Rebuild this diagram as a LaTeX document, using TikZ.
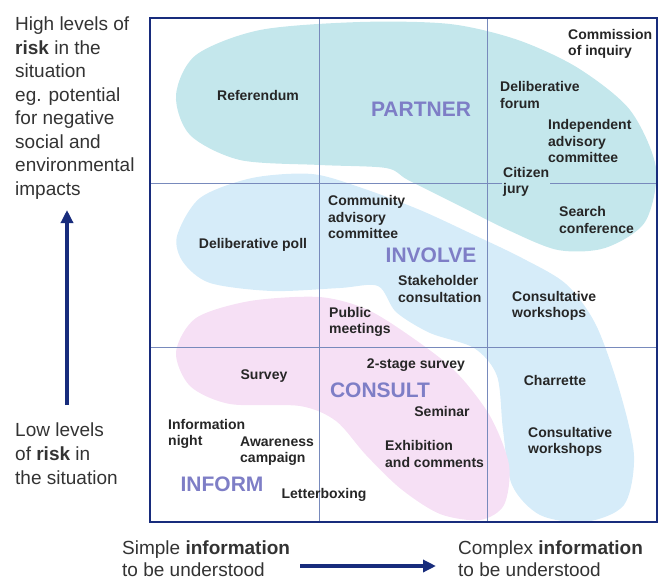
\documentclass[tikz,border=0pt]{standalone}
\usepackage{xcolor}
\usepackage{tikz}
\usepackage{fontspec}
\setmainfont{Liberation Sans}
\definecolor{partnerteal}{RGB}{196, 231, 236}
\definecolor{involveblue}{RGB}{214, 236, 249}
\definecolor{consultpink}{RGB}{246, 224, 245}
\definecolor{framenavy}{RGB}{24, 44, 124}
\definecolor{gridgray}{RGB}{120, 138, 188}
\definecolor{levelpurple}{RGB}{126, 126, 198}
\usetikzlibrary{arrows.meta}

\begin{document}
\begin{tikzpicture}[x=1pt, y=-1pt]
    \tikzstyle{item} = [inner sep=0pt, align=left, font=\fontsize{14}{16.5}\selectfont\bfseries, text=black!85]
    \tikzstyle{level} = [inner sep=0pt, font=\fontsize{21}{24}\selectfont\bfseries, text=levelpurple]
    \tikzstyle{axistext} = [inner sep=0pt, align=left, anchor=north west, font=\fontsize{19}{23.5}\selectfont, text=black!80]
    \tikzstyle{axisarrow} = [draw=framenavy, line width=4pt, -{Triangle[length=13pt, width=12pt]}]

    \useasboundingbox (0,0) rectangle (662,582);

    % Blobs
    \fill[partnerteal] plot[smooth cycle] coordinates {(176,95) (196,55) (260,30) (360,22) (450,24)
        (518,40) (578,68) (630,110) (656,168) (645,222) (605,248) (558,250) (508,230) (458,205)
        (408,180) (386,168) (320,165) (240,160) (190,135)};
    \fill[involveblue] plot[smooth cycle] coordinates {(177,236) (200,198) (252,178) (312,174)
        (362,188) (420,210) (472,234) (522,258) (566,284) (596,325) (620,392) (634,456) (624,505)
        (585,522) (540,515) (512,485) (503,430) (497,376) (474,348) (430,333) (396,312) (378,286)
        (340,288) (272,291) (210,283) (183,262)};
    \fill[consultpink] plot[smooth cycle] coordinates {(176,352) (196,318) (250,301) (319,297)
        (366,309) (410,336) (455,371) (490,416) (509,465) (504,505) (480,520) (440,514) (401,489)
        (366,455) (336,421) (300,406) (230,404) (190,386)};

    % Quadrant grid
    \draw[gridgray, line width=0.8pt] (319,18) -- (319,522);
    \draw[gridgray, line width=0.8pt] (487,18) -- (487,522);
    \draw[gridgray, line width=0.8pt] (150,183) -- (657,183);
    \draw[gridgray, line width=0.8pt] (150,347) -- (657,347);
    \draw[framenavy, line width=2.2pt] (150,18) rectangle (657,522);

    % Engagement levels
    \node[level] (partner) at (421,109) {PARTNER};
    \node[level] (involve) at (431,255) {INVOLVE};
    \node[level] (consult) at (380,390) {CONSULT};
    \node[level] (inform) at (222,484) {INFORM};

    % Techniques, top row
    \node[item] (referendum) at (258,95) {Referendum};
    \node[item, anchor=west] (inquiry) at (568,44) {Commission\\of inquiry};
    \node[item, anchor=west] (forum) at (500,95) {Deliberative\\forum};
    \node[item, anchor=west] (advisory) at (548,141) {Independent\\advisory\\committee};
    \node[item, anchor=west, fill=partnerteal, inner sep=1pt] (jury) at (502,182) {Citizen\\jury};
    \node[item, anchor=west] (search) at (559,220) {Search\\conference};

    % Techniques, middle row
    \node[item] (poll) at (253,245) {Deliberative poll};
    \node[item, anchor=west] (community) at (328,217) {Community\\advisory\\committee};
    \node[item, anchor=west] (stakeholder) at (398,289) {Stakeholder\\consultation};
    \node[item, anchor=west] (workshopsA) at (512,306) {Consultative\\workshops};
    \node[item, anchor=west] (meetings) at (329,322) {Public\\meetings};

    % Techniques, bottom row
    \node[item] (survey) at (264,376) {Survey};
    \node[item] (twostage) at (416,365) {2-stage survey};
    \node[item] (seminar) at (442,411) {Seminar};
    \node[item, anchor=west] (exhibition) at (385,454) {Exhibition\\and comments};
    \node[item] (charrette) at (555,380) {Charrette};
    \node[item, anchor=west] (workshopsB) at (528,442) {Consultative\\workshops};
    \node[item, anchor=west] (night) at (168,434) {Information\\night};
    \node[item, anchor=west] (awareness) at (240,451) {Awareness\\campaign};
    \node[item] (letterbox) at (324,495) {Letterboxing};

    % Axes
    \node[axistext] (highrisk) at (15,17) {High levels of\\\textbf{risk} in the\\situation\\eg. potential\\for negative\\social and\\environmental\\impacts};
    \node[axistext, font=\fontsize{19}{24}\selectfont] (lowrisk) at (15,423) {Low levels\\of \textbf{risk} in\\the situation};
    \node[axistext, font=\fontsize{19}{21.5}\selectfont] (simple) at (122,541) {Simple \textbf{information}\\to be understood};
    \node[axistext, font=\fontsize{19}{21.5}\selectfont] (complex) at (458,541) {Complex \textbf{information}\\to be understood};

    \coordinate (riskfrom) at (67,405);
    \coordinate (riskto) at (67,210);
    \coordinate (infofrom) at (300,566);
    \coordinate (infoto) at (436,566);
    \draw[axisarrow] (riskfrom) -- (riskto);
    \draw[axisarrow] (infofrom) -- (infoto);
\end{tikzpicture}
\end{document}
